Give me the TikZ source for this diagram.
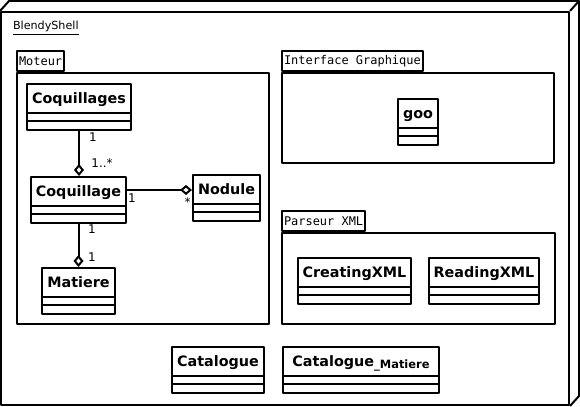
\documentclass[tikz,border=0pt]{standalone}
\usepackage{fontspec}
\setmainfont{DejaVu Sans}
\setmonofont{DejaVu Sans Mono}
\usetikzlibrary{arrows.meta}
\usetikzlibrary{shapes.multipart}
\newcommand{\umlname}[1]{\rule[-8bp]{0bp}{27bp}#1}

\begin{document}
\begin{tikzpicture}[>=latex,line join=bevel,line width=2bp,
  classbox/.style={draw,rectangle split,rectangle split parts=3,anchor=north,
    inner xsep=2bp,inner ysep=0bp,
    rectangle split empty part height=6.5bp,rectangle split empty part depth=0bp,
    font=\fontsize{14.4}{17}\selectfont\bfseries},
  pkgbody/.style={draw,rectangle,inner sep=0bp},
  pkgtab/.style={draw,rectangle,anchor=south west,inner xsep=2bp,inner ysep=0bp,
    minimum height=20bp,font=\fontsize{12}{14}\selectfont\ttfamily},
  mult/.style={anchor=base,inner sep=0bp,font=\fontsize{12}{14}\selectfont},
  agg/.style={-{Diamond[open,length=12bp,width=10bp]}}]
\useasboundingbox (0bp,0bp) rectangle (580bp,407bp);
%%
\node (node_blendyshell) at (285bp,198.5bp) [draw,minimum width=568bp,minimum height=393bp,inner sep=0bp] {};
  \draw (node_blendyshell.north west) -- ++(9bp,10bp) -- ([shift={(9bp,10bp)}]node_blendyshell.north east) -- ([shift={(9bp,10bp)}]node_blendyshell.south east) -- (node_blendyshell.south east);
  \draw (node_blendyshell.north east) -- ++(9bp,10bp);
  \node (node_title) at (12bp,377bp) [anchor=base west,inner sep=0bp,font=\fontsize{11.2}{13}\selectfont] {\underline{BlendyShell}};
%
  \node (node_moteur) at (143bp,208.5bp) [pkgbody,minimum width=252bp,minimum height=251bp] {};
  \node (node_moteur_tab) at (node_moteur.north west) [pkgtab] {Moteur};
  \node (node_interface) at (418bp,289bp) [pkgbody,minimum width=272bp,minimum height=90bp] {};
  \node (node_interface_tab) at (node_interface.north west) [pkgtab] {Interface Graphique};
  \node (node_parseur) at (418.5bp,128.5bp) [pkgbody,minimum width=273bp,minimum height=91bp] {};
  \node (node_parseur_tab) at (node_parseur.north west) [pkgtab] {Parseur XML};
%
  \node (node_coquillages) at (79bp,324bp) [classbox,minimum width=104bp] {\umlname{Coquillages}};
  \node (node_coquillage) at (78.5bp,231bp) [classbox,minimum width=95bp] {\umlname{Coquillage}};
  \node (node_nodule) at (226.5bp,233bp) [classbox,minimum width=67bp] {\umlname{Nodule}};
  \node (node_matiere) at (78.5bp,140bp) [classbox,minimum width=73bp] {\umlname{Matiere}};
  \node (node_goo) at (418bp,309bp) [classbox,minimum width=40bp] {\umlname{goo}};
  \node (node_creatingxml) at (354.5bp,150bp) [classbox,minimum width=113bp] {\umlname{CreatingXML}};
  \node (node_readingxml) at (484bp,150bp) [classbox,minimum width=110bp] {\umlname{ReadingXML}};
  \node (node_catalogue) at (218bp,61bp) [classbox,minimum width=92bp] {\umlname{Catalogue}};
  \node (node_catalogue_matiere) at (361bp,61bp) [classbox,minimum width=156bp] {\umlname{Catalogue\raisebox{-2bp}{\fontsize{11.5}{13}\selectfont\_Matiere}}};
%
  \draw [black,agg] (node_coquillages.south) -- (node_coquillages.south |- node_coquillage.north);
  \draw [black,agg] ([yshift=-14bp]node_coquillage.north east) -- ([yshift=-14bp]node_coquillage.north east -| node_nodule.west);
  \draw [black,agg] (node_coquillage.south) -- (node_matiere.north);
  \node (mult_0) at (93bp,265bp) [mult] {1};
  \node (mult_1) at (102bp,239bp) [mult] {1..*};
  \node (mult_2) at (132bp,204bp) [mult] {1};
  \node (mult_3) at (187.5bp,200bp) [mult] {*};
  \node (mult_4) at (92bp,173bp) [mult] {1};
  \node (mult_5) at (92bp,145bp) [mult] {1};
%
\end{tikzpicture}
\end{document}
